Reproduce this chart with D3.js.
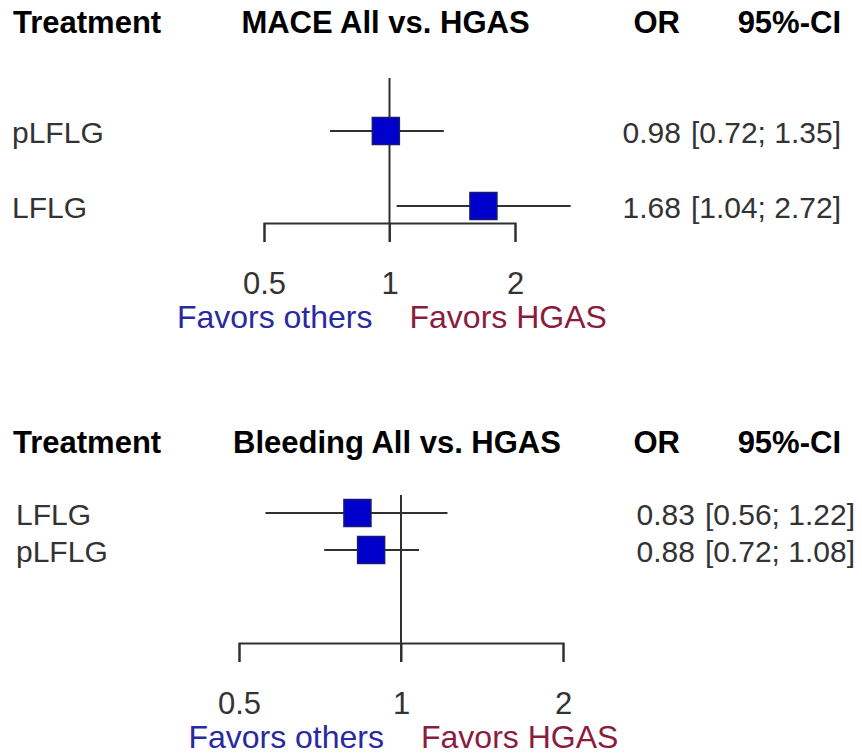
<!DOCTYPE html>
<html>
<head>
<meta charset="utf-8">
<script src="https://cdn.jsdelivr.net/npm/d3@7/dist/d3.min.js"></script>
<style>
  html, body { margin: 0; padding: 0; background: #fff; }
  svg { display: block; }
  text { font-family: "Liberation Sans", Arial, sans-serif; }
</style>
</head>
<body>
<svg id="chart" width="862" height="755"></svg>
<script>
// ---- Data ----
const panelTitles = ["MACE All vs. HGAS", "Bleeding All vs. HGAS"];
const headerLabels = ["Treatment", "OR", "95%-CI"];
const favorLabels = ["Favors others", "Favors HGAS"];

const maceTreatments = ["pLFLG", "LFLG"];
const maceOR = [0.98, 1.68];
const maceLower = [0.72, 1.04];
const maceUpper = [1.35, 2.72];

const bleedTreatments = ["LFLG", "pLFLG"];
const bleedOR = [0.83, 0.88];
const bleedLower = [0.56, 0.72];
const bleedUpper = [1.22, 1.08];

const tickValues = [0.5, 1, 2];
const tickLabels = ["0.5", "1", "2"];

// ---- Layout ----
const svg = d3.select("#chart");
const fmt = d3.format(".2f");

const panels = [
  {
    title: panelTitles[0],
    treat: maceTreatments, or: maceOR, lo: maceLower, hi: maceUpper,
    headerY: 33, xRange: [264, 515], rowRange: [131, 206],
    refTop: 78, axisY: 223, ciRight: 841, labelX: 12
  },
  {
    title: panelTitles[1],
    treat: bleedTreatments, or: bleedOR, lo: bleedLower, hi: bleedUpper,
    headerY: 453, xRange: [239, 563], rowRange: [513, 550],
    refTop: 495, axisY: 643, ciRight: 855, labelX: 16
  }
];

const boxSize = 27;
const tickLen = 19;
const lineCol = "#303030";
const textCol = "#333";
const valSize = 30;

panels.forEach(p => {
  const g = svg.append("g");
  const x = d3.scaleLog().domain([tickValues[0], tickValues[tickValues.length - 1]]).range(p.xRange);
  const y = d3.scalePoint().domain(p.treat).range(p.rowRange);

  // headers
  const hdr = g.append("g").attr("font-weight", "bold").attr("font-size", 31).attr("fill", "#000");
  hdr.append("text").attr("x", 13).attr("y", p.headerY).text(headerLabels[0]);
  hdr.append("text").attr("x", (p.xRange[0] + p.xRange[1]) / 2 - 4).attr("y", p.headerY)
    .attr("text-anchor", "middle").text(p.title);
  hdr.append("text").attr("x", 680).attr("y", p.headerY).attr("text-anchor", "end").text(headerLabels[1]);
  hdr.append("text").attr("x", 841).attr("y", p.headerY).attr("text-anchor", "end").text(headerLabels[2]);

  // axis
  const axis = d3.axisBottom(x)
    .tickValues(tickValues)
    .tickFormat((d, i) => tickLabels[i])
    .tickSize(tickLen)
    .tickSizeOuter(tickLen)
    .tickPadding(30);
  const ag = g.append("g").attr("transform", `translate(0,${p.axisY})`).call(axis);
  ag.selectAll("path, line").attr("stroke", lineCol).attr("stroke-width", 2);
  ag.selectAll("text").attr("font-size", 31).attr("fill", textCol)
    .attr("font-family", "Liberation Sans, Arial, sans-serif");

  // reference line at 1
  g.append("line")
    .attr("x1", x(1)).attr("x2", x(1))
    .attr("y1", p.refTop).attr("y2", p.axisY + tickLen)
    .attr("stroke", lineCol).attr("stroke-width", 2);

  p.treat.forEach((t, i) => {
    // CI line
    g.append("line")
      .attr("x1", x(p.lo[i])).attr("x2", x(p.hi[i]))
      .attr("y1", y(t)).attr("y2", y(t))
      .attr("stroke", lineCol).attr("stroke-width", 2);
    // OR box
    g.append("rect")
      .attr("x", x(p.or[i]) - boxSize / 2).attr("y", y(t) - boxSize / 2)
      .attr("width", boxSize).attr("height", boxSize)
      .attr("fill", "#0000cc").attr("stroke", "#1a1a70").attr("stroke-width", 1.5);

    // labels
    g.append("text").attr("x", p.labelX).attr("y", y(t) + 12)
      .attr("font-size", 30).attr("fill", textCol).text(t);
    const ci = g.append("text").attr("x", p.ciRight).attr("y", y(t) + 12)
      .attr("text-anchor", "end").attr("font-size", valSize).attr("fill", textCol)
      .text(`[${fmt(p.lo[i])}; ${fmt(p.hi[i])}]`);
    const ciW = ci.node().getComputedTextLength();
    g.append("text").attr("x", p.ciRight - ciW - 10).attr("y", y(t) + 12)
      .attr("text-anchor", "end").attr("font-size", valSize).attr("fill", textCol).text(fmt(p.or[i]));
  });

  // favors labels
  g.append("text").attr("x", x(1) - 17).attr("y", p.axisY + 105)
    .attr("text-anchor", "end").attr("font-size", 32).attr("fill", "#2a2aa0").text(favorLabels[0]);
  g.append("text").attr("x", x(1) + 20).attr("y", p.axisY + 105)
    .attr("text-anchor", "start").attr("font-size", 32).attr("fill", "#8c1c3e").text(favorLabels[1]);
});
</script>
</body>
</html>
